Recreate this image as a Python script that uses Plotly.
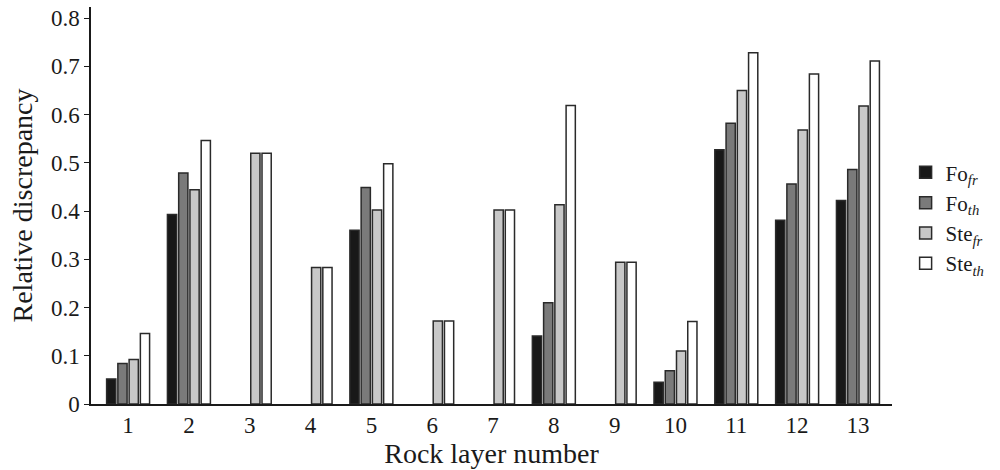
import plotly.graph_objects as go

layers = [str(i) for i in range(1, 14)]
fo_fr = [0.052, 0.393, None, None, 0.360, None, None, 0.141, None, 0.045, 0.527, 0.381, 0.422]
fo_th = [0.084, 0.479, None, None, 0.449, None, None, 0.210, None, 0.069, 0.582, 0.456, 0.486]
ste_fr = [0.092, 0.444, 0.520, 0.283, 0.402, 0.172, 0.402, 0.413, 0.294, 0.110, 0.650, 0.568, 0.618]
ste_th = [0.146, 0.546, 0.520, 0.283, 0.498, 0.172, 0.402, 0.619, 0.294, 0.171, 0.728, 0.684, 0.711]

series = [
    ("Fo<sub><i>fr</i></sub>", fo_fr, "#181818"),
    ("Fo<sub><i>th</i></sub>", fo_th, "#7a7a7a"),
    ("Ste<sub><i>fr</i></sub>", ste_fr, "#c8c8c8"),
    ("Ste<sub><i>th</i></sub>", ste_th, "#ffffff"),
]

fig = go.Figure()
for name, vals, col in series:
    fig.add_trace(go.Bar(
        x=list(range(1, 14)), y=vals, name=name,
        marker=dict(color=col, line=dict(color="#2a2a2a", width=1.5)),
    ))

font_family = "Liberation Serif, Times New Roman, serif"
fig.update_layout(
    width=1000, height=470,
    margin=dict(l=91, r=108, t=7, b=66),
    plot_bgcolor="white", paper_bgcolor="white",
    barmode="group", bargap=0.26, bargroupgap=0.18,
    font=dict(family=font_family, size=22, color="#1a1a1a"),
    xaxis=dict(
        range=[0.39, 13.56], tickmode="array", tickvals=list(range(1, 14)), ticktext=layers,
        showline=True, linecolor="#1a1a1a", linewidth=1.5, ticks="", showgrid=False,
        zeroline=False,
        title=dict(text="Rock layer number", font=dict(family=font_family, size=28), standoff=0),
        tickfont=dict(family=font_family, size=23),
    ),
    yaxis=dict(
        range=[0, 0.823], tickmode="array",
        tickvals=[0, 0.1, 0.2, 0.3, 0.4, 0.5, 0.6, 0.7, 0.8],
        ticktext=["0", "0.1", "0.2", "0.3", "0.4", "0.5", "0.6", "0.7", "0.8"],
        showline=True, linecolor="#1a1a1a", linewidth=1.5, ticks="outside", ticklen=5,
        tickcolor="#1a1a1a", showgrid=False, zeroline=False,
        title=dict(text="Relative discrepancy", font=dict(family=font_family, size=28), standoff=10),
        tickfont=dict(family=font_family, size=23),
    ),
    legend=dict(
        x=1.017, y=0.468, xanchor="left", yanchor="middle",
        font=dict(family=font_family, size=21), bgcolor="rgba(0,0,0,0)", tracegroupgap=0,
        itemwidth=30,
    ),
)

fig.write_html("out.html")
